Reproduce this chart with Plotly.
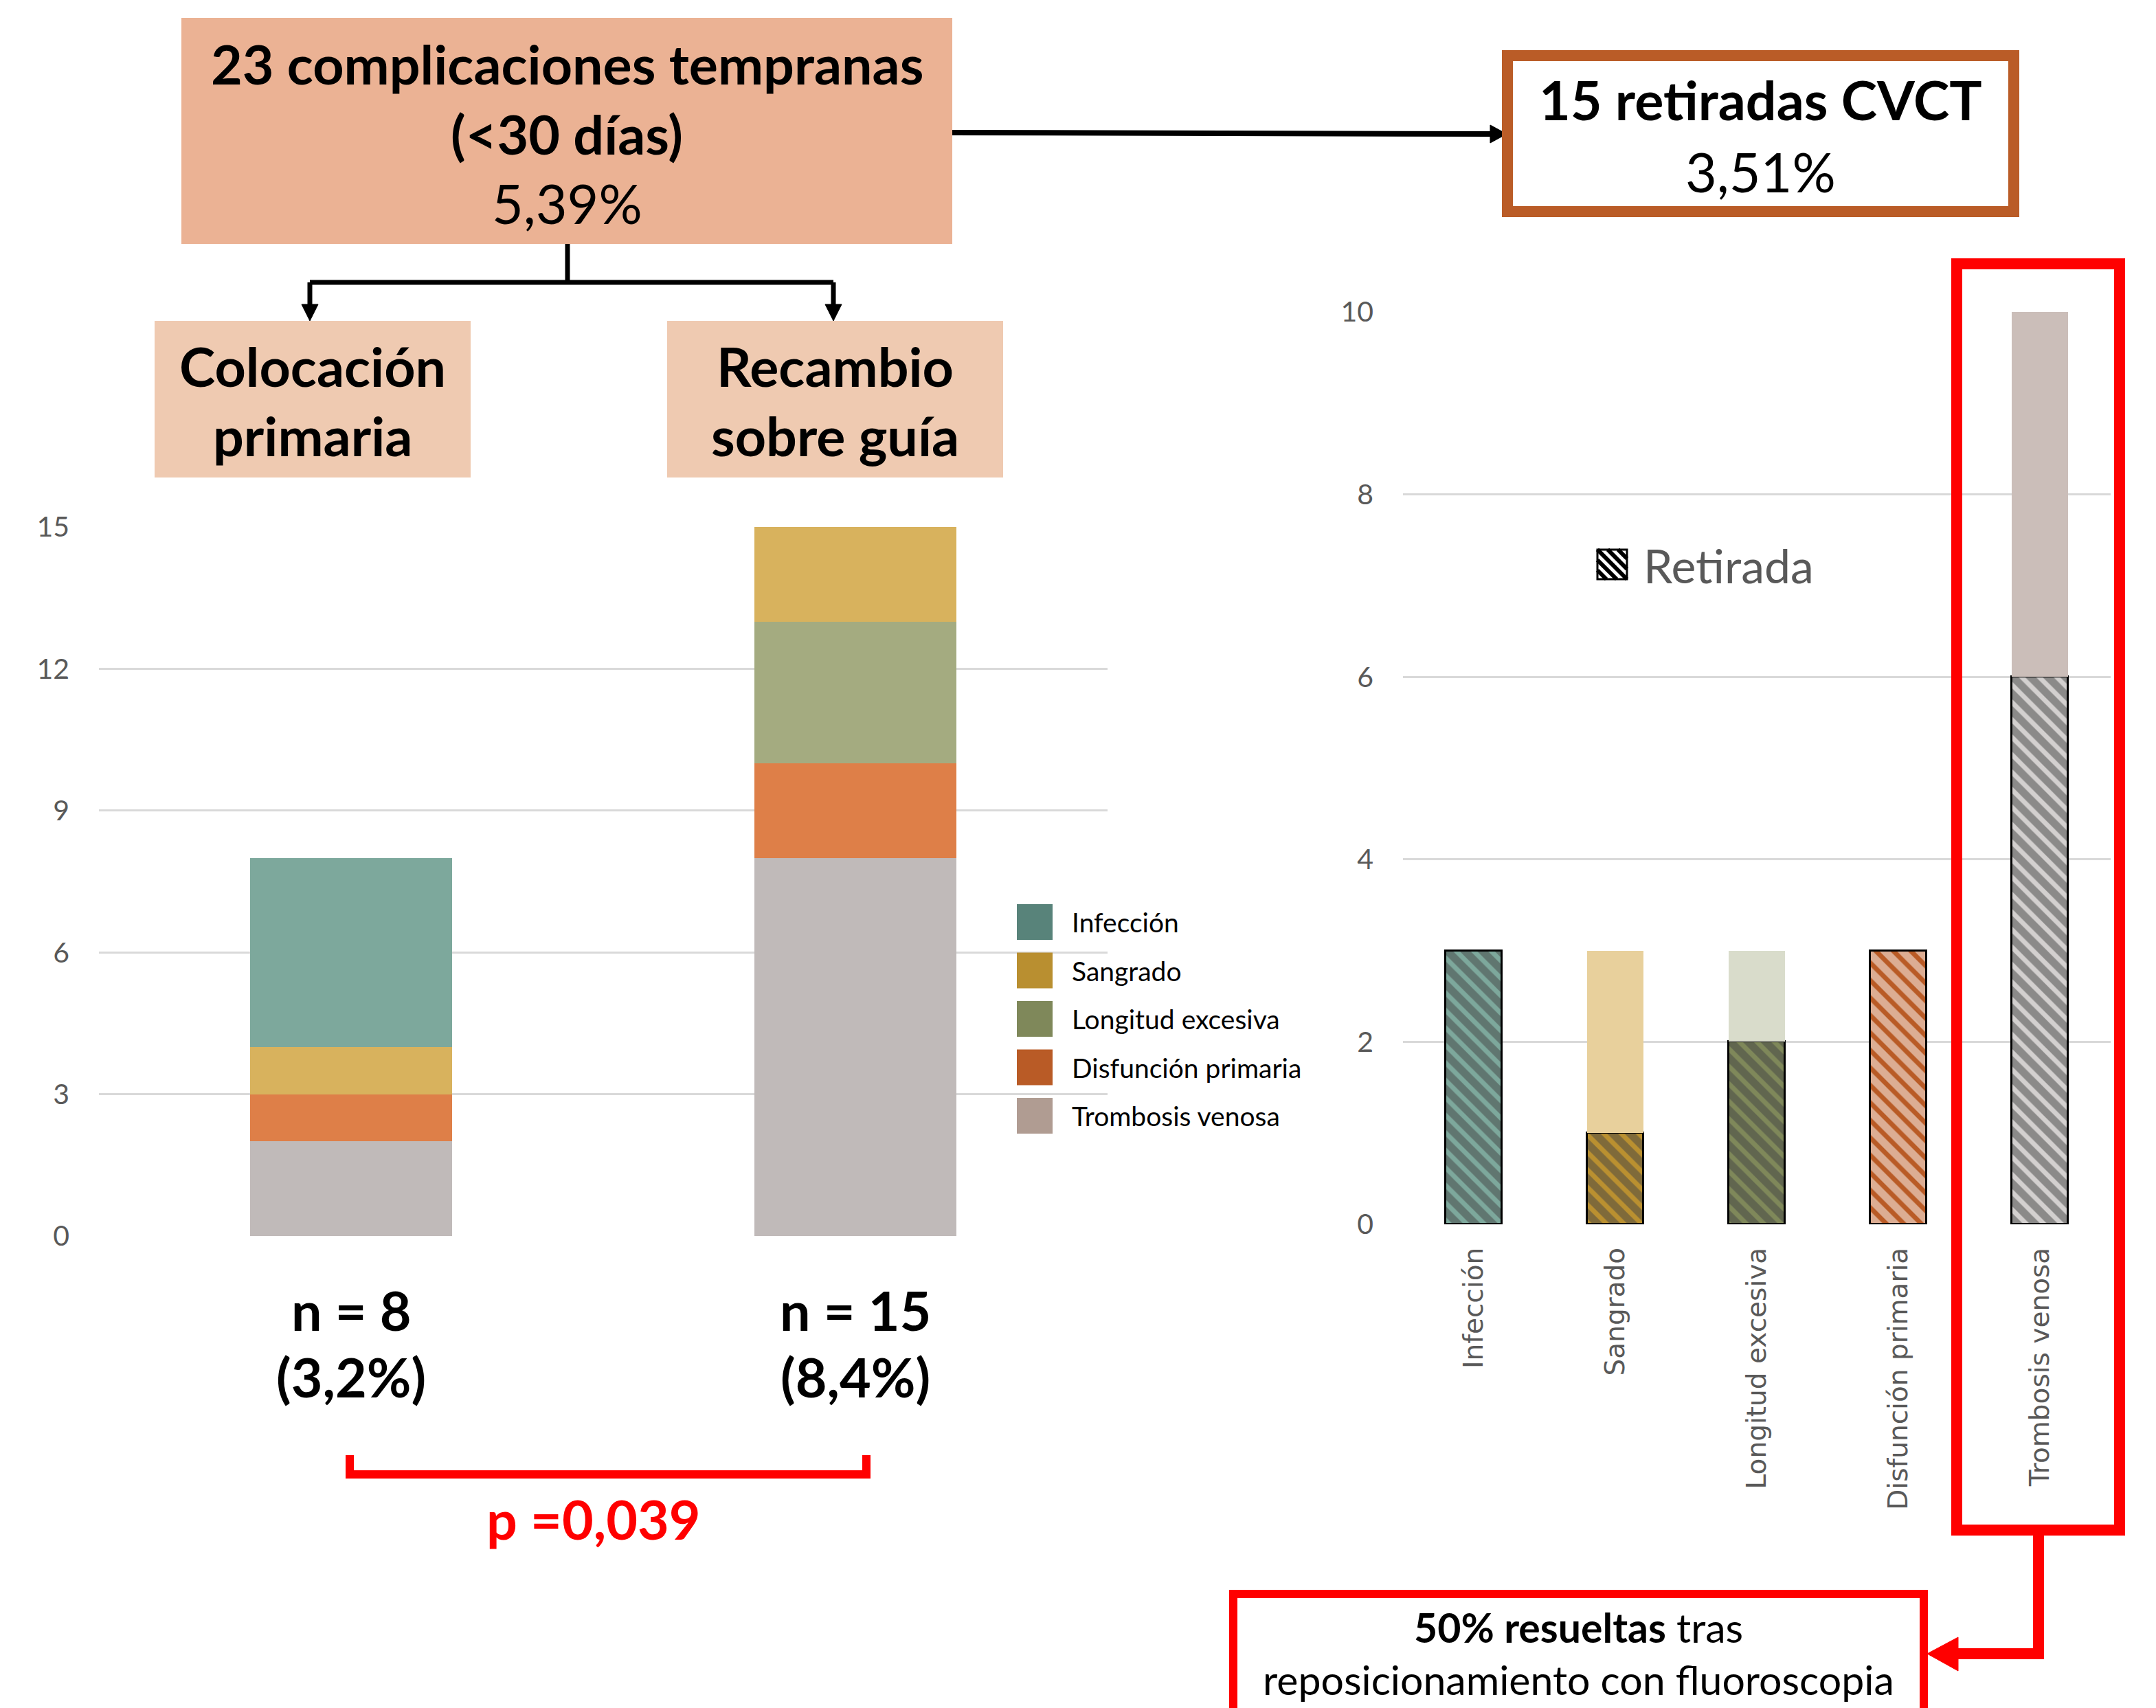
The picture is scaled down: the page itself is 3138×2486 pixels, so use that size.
import plotly.graph_objects as go

# ---------------- data ----------------
groups = ["Colocación primaria", "Recambio sobre guía"]
group_pct = ["(3,2%)", "(8,4%)"]

# stacked from bottom to top
stack_names = ["Trombosis venosa", "Disfunción primaria", "Longitud excesiva", "Sangrado", "Infección"]
stack_values = {
    "Trombosis venosa": [2, 8],
    "Disfunción primaria": [1, 2],
    "Longitud excesiva": [0, 3],
    "Sangrado": [1, 2],
    "Infección": [4, 0],
}
bar_colors = {
    "Trombosis venosa": "#C0BAB9",
    "Disfunción primaria": "#DE7F48",
    "Longitud excesiva": "#A4AB80",
    "Sangrado": "#D8B25D",
    "Infección": "#7DA89C",
}
legend_order = ["Infección", "Sangrado", "Longitud excesiva", "Disfunción primaria", "Trombosis venosa"]
legend_colors = {
    "Infección": "#58837A",
    "Sangrado": "#B98F30",
    "Longitud excesiva": "#7F885A",
    "Disfunción primaria": "#B95B26",
    "Trombosis venosa": "#B09C92",
}

causes = ["Infección", "Sangrado", "Longitud excesiva", "Disfunción primaria", "Trombosis venosa"]
retirada = [3, 1, 2, 3, 6]
no_retirada = [0, 2, 1, 0, 4]
retirada_colors = ["#7DA89C", "#BA9030", "#7F885A", "#B95B26", "#D3D0CF"]
no_retirada_colors = ["#D6E5E1", "#E8D09C", "#D9DCCB", "#EFC9B1", "#CBBEB9"]

left_ticks = [0, 3, 6, 9, 12, 15]
right_ticks = [0, 2, 4, 6, 8, 10]

# ---------------- canvas helpers ----------------
W, H = 3138, 2486


def px(x):
    return x / W


def py(y):
    return 1 - y / H


def path(points, close=False):
    s = "M " + " L ".join(f"{px(x):.5f},{py(y):.5f}" for x, y in points)
    return s + (" Z" if close else "")


FONT = "Lato"
GRID = "#D9D9D9"
TICK = "#595959"

fig = go.Figure()

# ---------------- left: stacked complications by group ----------------
for name in stack_names:
    fig.add_trace(go.Bar(
        x=groups, y=stack_values[name], name=name,
        marker=dict(color=bar_colors[name], line=dict(width=0)),
        width=0.4, xaxis="x", yaxis="y", showlegend=False,
    ))

# ---------------- right: removals by cause ----------------
fig.add_trace(go.Bar(
    x=causes, y=retirada, name="Retirada",
    marker=dict(
        color=retirada_colors,
        line=dict(color="black", width=3),
        pattern=dict(shape="\\", fgcolor="black", fillmode="overlay", size=18, solidity=0.62),
    ),
    width=0.4, xaxis="x2", yaxis="y2", showlegend=False,
))
fig.add_trace(go.Bar(
    x=causes, y=no_retirada, name="No retirada",
    marker=dict(color=no_retirada_colors, line=dict(width=0)),
    width=0.4, xaxis="x2", yaxis="y2", showlegend=False,
))

shapes = []
annotations = []


def rect(x0, y0, x1, y1, fill=None, line_color=None, line_width=0):
    shapes.append(dict(
        type="rect", xref="paper", yref="paper",
        x0=px(x0), x1=px(x1), y0=py(y1), y1=py(y0),
        fillcolor=fill if fill else "rgba(0,0,0,0)",
        line=dict(color=line_color if line_color else "rgba(0,0,0,0)", width=line_width),
        layer="above",
    ))


def poly(points, color, width, close=False, fill=None):
    shapes.append(dict(
        type="path", xref="paper", yref="paper", path=path(points, close),
        line=dict(color=color, width=width),
        fillcolor=fill if fill else "rgba(0,0,0,0)",
        layer="above",
    ))


def text(x, y, s, size, color="black", family=FONT, xanchor="center"):
    annotations.append(dict(
        xref="paper", yref="paper", x=px(x), y=py(y), text=s, showarrow=False,
        xanchor=xanchor, yanchor="middle",
        font=dict(family=family, size=size, color=color),
    ))


# header box
rect(264, 26, 1386, 355, fill="#EBB294")
text(825, 92, "<b>23 complicaciones tempranas</b>", 79)
text(825, 194, "<b>(&lt;30 días)</b>", 79)
text(825, 296, "5,39%", 79)

# split connector
poly([(826, 355), (826, 411)], "black", 7)
poly([(451, 411), (1213, 411)], "black", 7)
poly([(451, 411), (451, 446)], "black", 7)
poly([(1213, 411), (1213, 446)], "black", 7)
poly([(439, 443), (463, 443), (451, 467)], "black", 1, close=True, fill="black")
poly([(1201, 443), (1225, 443), (1213, 467)], "black", 1, close=True, fill="black")

# group boxes
rect(225, 467, 685, 695, fill="#EFCAB1")
rect(971, 467, 1460, 695, fill="#EFCAB1")
text(455, 532, "<b>Colocación</b>", 79)
text(455, 634, "<b>primaria</b>", 79)
text(1215, 532, "<b>Recambio</b>", 79)
text(1215, 634, "<b>sobre guía</b>", 79)

# arrow to removals box
poly([(1386, 193), (2172, 195)], "black", 8)
poly([(2169, 182), (2193, 195), (2169, 208)], "black", 1, close=True, fill="black")

# removals box
rect(2194, 81, 2931, 308, fill="white", line_color="#BA5C27", line_width=16)
text(2562, 145, "<b>15 retiradas CVCT</b>", 79)
text(2562, 249, "3,51%", 79)

# group totals under the bars
for i, g in enumerate(groups):
    total = sum(stack_values[n][i] for n in stack_names)
    annotations.append(dict(
        xref="x", yref="paper", x=g, y=py(1906), text=f"<b>n = {total}</b>",
        showarrow=False, xanchor="center", yanchor="middle",
        font=dict(family=FONT, size=79, color="black"),
    ))
    annotations.append(dict(
        xref="x", yref="paper", x=g, y=py(2003), text=f"<b>{group_pct[i]}</b>",
        showarrow=False, xanchor="center", yanchor="middle",
        font=dict(family=FONT, size=79, color="black"),
    ))

# significance bracket
poly([(509, 2118), (509, 2146), (1261, 2146), (1261, 2118)], "#FF0000", 12)
text(864, 2210, "<b>p =0,039</b>", 79, color="#FF0000")

# left legend
for k, name in enumerate(legend_order):
    yc = 1342 + k * 70.5
    rect(1480, yc - 26, 1532, yc + 26, fill=legend_colors[name])
    text(1558, yc, name, 39, xanchor="left")

# "Retirada" key with hatched swatch
sx, sy, ss = 2325, 800, 43
rect(sx, sy, sx + ss, sy + ss, fill="white")
for c in (-30, -15, 0, 15, 30):
    a = max(0, -c)
    b = min(ss, ss - c)
    poly([(sx + a, sy + a + c), (sx + b, sy + b + c)], "black", 6)
rect(sx, sy, sx + ss, sy + ss, line_color="black", line_width=3)
text(2390, 822, "Retirada", 68, color=TICK, xanchor="left")

# highlight around venous thrombosis column and link to note
rect(2848, 384, 3085, 2227, line_color="#FF0000", line_width=16)
poly([(2967, 2235), (2967, 2407), (2846, 2407)], "#FF0000", 16)
poly([(2805, 2407), (2850, 2383), (2850, 2432)], "#FF0000", 1, close=True, fill="#FF0000")

# note box (runs off the bottom edge)
rect(1795, 2320, 2800, 2500, fill="white", line_color="#FF0000", line_width=12)
text(2297, 2368, "<b>50% resueltas</b> tras", 59)
text(2297, 2444, "reposicionamiento con fluoroscopia", 59)

fig.update_layout(
    width=W, height=H, autosize=False,
    margin=dict(l=0, r=0, t=0, b=0, pad=0, autoexpand=False),
    paper_bgcolor="white", plot_bgcolor="white",
    barmode="stack", bargap=0,
    font=dict(family=FONT, color=TICK),
    showlegend=False,
    xaxis=dict(
        domain=[px(144), px(1612)], anchor="y", type="category",
        range=[-0.5, 1.5], showticklabels=False, showgrid=False,
        zeroline=False, showline=False, ticks="", automargin=False,
    ),
    yaxis=dict(
        domain=[py(1799), py(767)], anchor="x", range=[0, 15],
        tickvals=left_ticks, showgrid=True, gridcolor=GRID, gridwidth=2.5,
        zeroline=False, showline=False, ticks="", automargin=False,
        tickfont=dict(family=FONT, size=41, color=TICK), ticklabelstandoff=42,
    ),
    xaxis2=dict(
        domain=[px(2042), px(3072)], anchor="y2", type="category",
        range=[-0.5, 4.5], showgrid=False, zeroline=False, showline=False,
        ticks="", tickangle=-90, automargin=False,
        tickfont=dict(family="DejaVu Sans", size=39, color=TICK), ticklabelstandoff=25,
    ),
    yaxis2=dict(
        domain=[py(1782), py(454)], anchor="x2", range=[0, 10],
        tickvals=right_ticks, showgrid=True, gridcolor=GRID, gridwidth=2.5,
        zeroline=False, showline=False, ticks="", automargin=False,
        tickfont=dict(family=FONT, size=41, color=TICK), ticklabelstandoff=42,
    ),
    shapes=shapes,
    annotations=annotations,
)

fig.write_html("out.html")
